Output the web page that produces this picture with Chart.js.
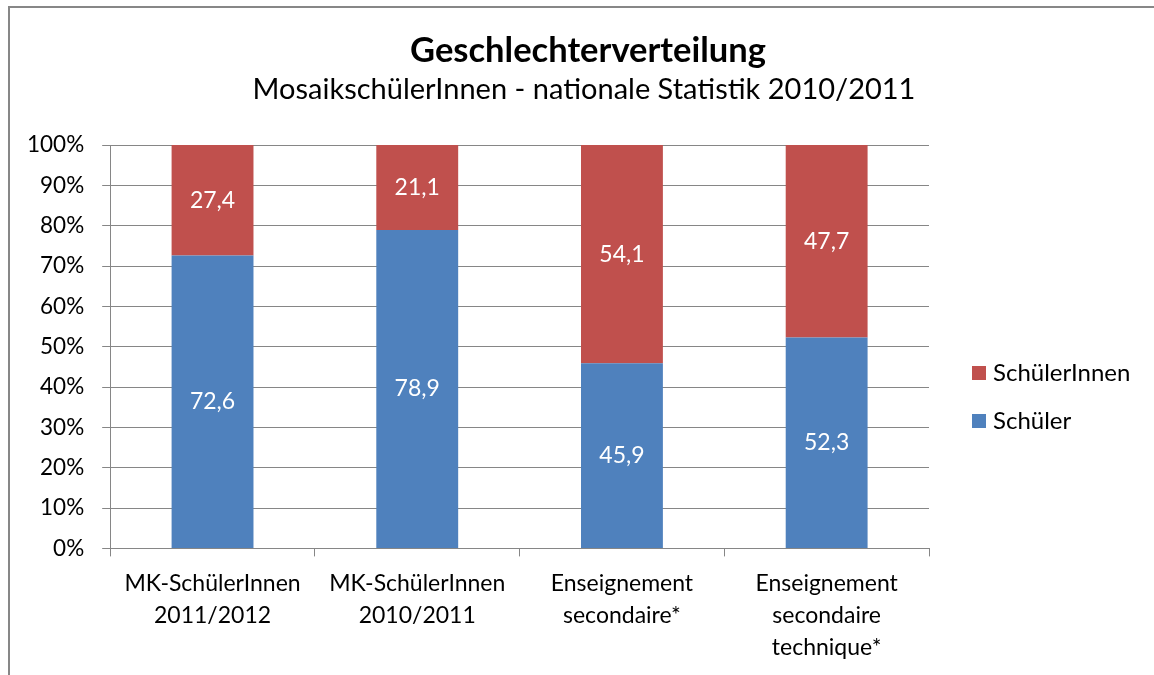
<!DOCTYPE html>
<html>
<head>
<meta charset="utf-8">
<script src="https://cdn.jsdelivr.net/npm/chart.js@4"></script>
<style>
html,body{margin:0;padding:0;background:#fff;overflow:hidden;}
#frame{position:absolute;left:8px;top:6px;width:1300px;height:800px;border-left:2px solid #878787;border-top:2px solid #878787;box-sizing:border-box;}
#wrap{position:absolute;left:0;top:0;width:1154px;height:675px;}
</style>
</head>
<body>
<div id="frame"></div>
<div id="wrap"><canvas id="c" width="1154" height="675"></canvas></div>
<script>
const categories = [
  ["MK-SchülerInnen","2011/2012"],
  ["MK-SchülerInnen","2010/2011"],
  ["Enseignement","secondaire*"],
  ["Enseignement","secondaire","technique*"]
];
const schuelerValues = [72.6, 78.9, 45.9, 52.3];
const schuelerInnenValues = [27.4, 21.1, 54.1, 47.7];
const yTicks = [0,10,20,30,40,50,60,70,80,90,100];
const titleText = 'Geschlechterverteilung';
const subtitleText = 'MosaikschülerInnen - nationale Statistik 2010/2011';

const FONT = "Lato, 'Open Sans', sans-serif";
const gridColor = '#868686';

const dataLabels = {
  id:'dataLabels',
  afterDatasetsDraw(chart){
    const ctx = chart.ctx;
    ctx.save();
    ctx.fillStyle = '#ffffff';
    ctx.font = '23px ' + FONT;
    ctx.textAlign = 'center';
    ctx.textBaseline = 'middle';
    chart.data.datasets.forEach((ds,i)=>{
      const meta = chart.getDatasetMeta(i);
      meta.data.forEach((bar,j)=>{
        const {x,y,base} = bar.getProps(['x','y','base'],true);
        ctx.fillText(ds.data[j].toFixed(1).replace('.',','), x, (y+base)/2);
      });
    });
    ctx.restore();
  }
};

const titles = {
  id:'titles',
  afterDraw(chart){
    const ctx = chart.ctx;
    ctx.save();
    ctx.fillStyle = '#000';
    ctx.textAlign = 'center';
    ctx.textBaseline = 'alphabetic';
    ctx.font = 'bold 34.5px ' + FONT;
    ctx.fillText(titleText, 588, 62);
    ctx.font = '29px ' + FONT;
    ctx.fillText(subtitleText, 584, 99);
    ctx.restore();
  }
};

const customLegend = {
  id:'customLegend',
  afterDraw(chart){
    const ctx = chart.ctx;
    const left = 972, top = 373, step = 48, box = 14;
    ctx.save();
    ctx.font = '24px ' + FONT;
    ctx.textBaseline = 'middle';
    ctx.textAlign = 'left';
    const ds = chart.data.datasets.slice().reverse();
    ds.forEach((d,i)=>{
      const cy = top + i*step;
      ctx.fillStyle = d.backgroundColor;
      ctx.fillRect(left, cy - box/2, box, box);
      ctx.fillStyle = '#000';
      ctx.fillText(d.label, left + box + 7, cy);
    });
    ctx.restore();
  }
};

new Chart(document.getElementById('c'),{
  type:'bar',
  data:{
    labels:categories,
    datasets:[
      {label:'Schüler', data:schuelerValues, backgroundColor:'#4F81BD', barPercentage:0.8, categoryPercentage:0.5},
      {label:'SchülerInnen', data:schuelerInnenValues, backgroundColor:'#C0504D', barPercentage:0.8, categoryPercentage:0.5}
    ]
  },
  options:{
    responsive:false,
    animation:false,
    layout:{padding:{left:9,right:225,top:145,bottom:0}},
    plugins:{
      title:{display:false},
      legend:{display:false},
      tooltip:{enabled:false}
    },
    scales:{
      x:{stacked:true,
        grid:{display:true,drawOnChartArea:false,drawTicks:true,tickLength:8,color:gridColor,offset:true},
        border:{display:true,color:gridColor,width:1},
        ticks:{color:'#000',font:{family:FONT,size:23,lineHeight:1.4},padding:11,maxRotation:0,autoSkip:false}
      },
      y:{stacked:true,min:0,max:100,
        afterBuildTicks(axis){axis.ticks = yTicks.map(v=>({value:v}));},
        grid:{color:gridColor,tickLength:8,lineWidth:1},
        border:{display:true,color:gridColor,width:1},
        ticks:{color:'#000',font:{family:FONT,size:22.5},padding:18,callback:v=>v+'%'}
      }
    }
  },
  plugins:[dataLabels, titles, customLegend]
});
</script>
</body>
</html>
